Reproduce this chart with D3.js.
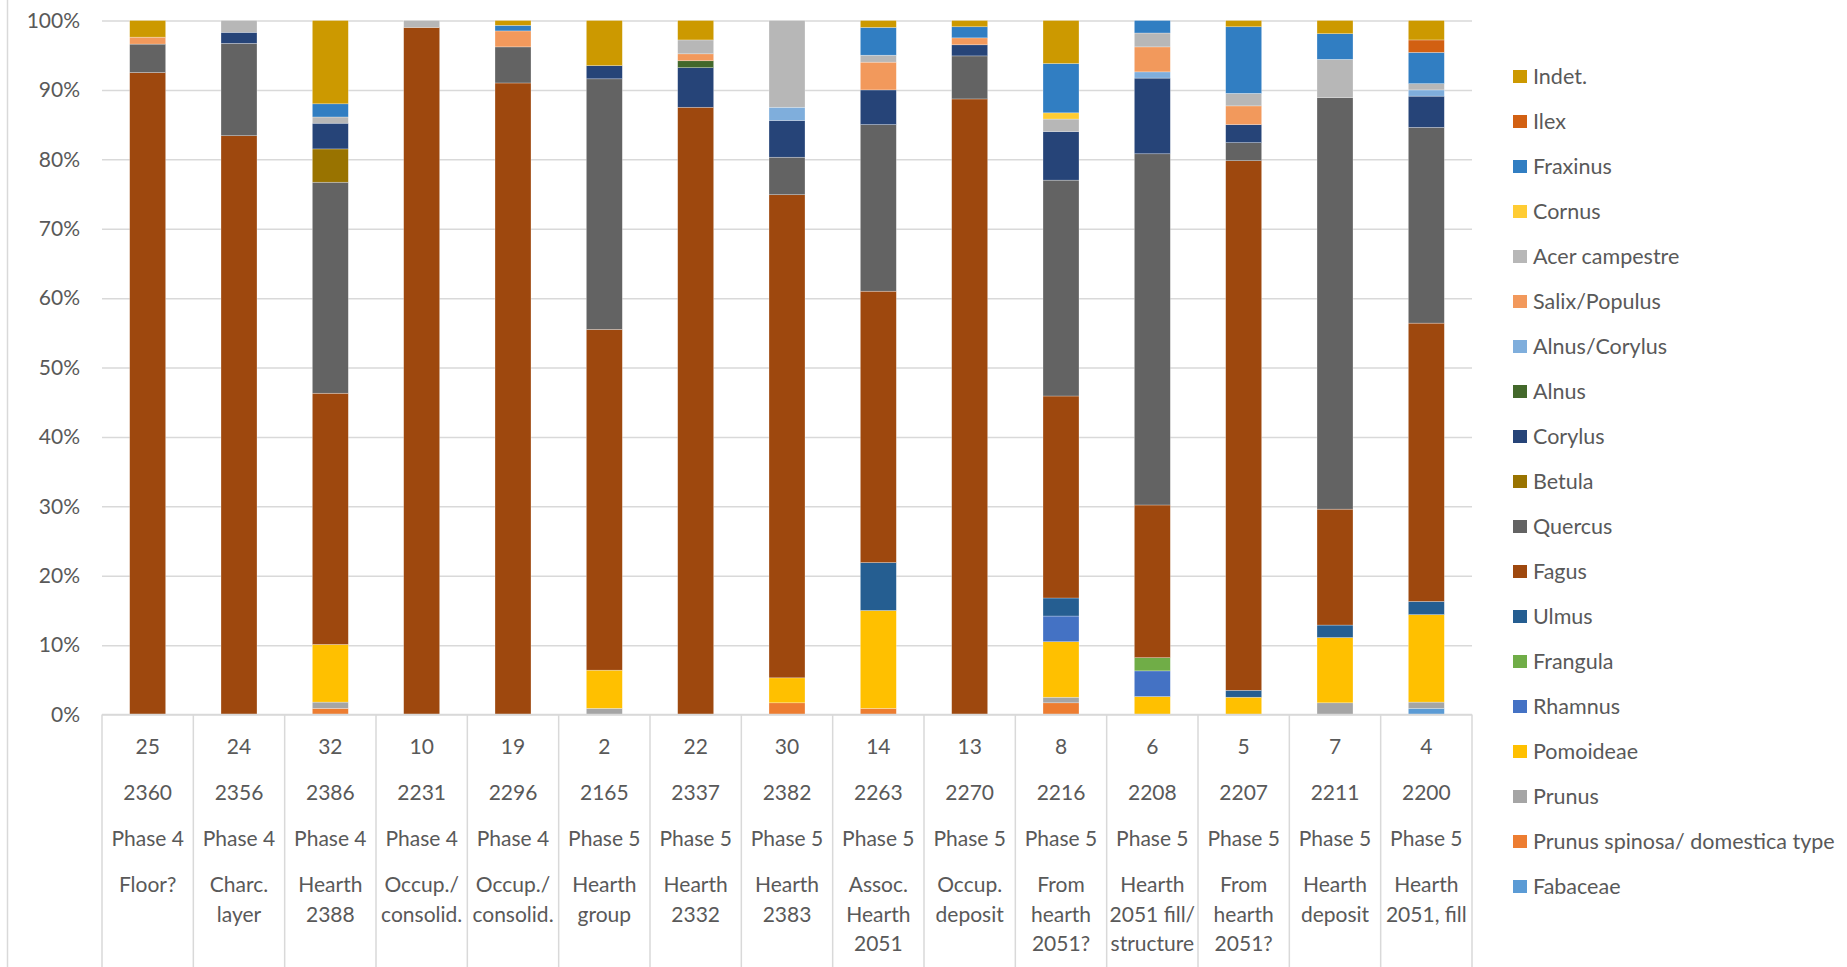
<!DOCTYPE html>
<html>
<head>
<meta charset="utf-8">
<script src="https://cdnjs.cloudflare.com/ajax/libs/d3/7.8.5/d3.min.js"></script>
<style>
  html, body { margin: 0; padding: 0; background: #fff; }
  svg text { font-family: Lato, "Open Sans", sans-serif; fill: #595959; }
</style>
</head>
<body>
<div class="container"></div>
<script>
// category label rows
var counts = ['25', '24', '32', '10', '19', '2', '22', '30', '14', '13', '8', '6', '5', '7', '4'];
var contexts = ['2360', '2356', '2386', '2231', '2296', '2165', '2337', '2382', '2263', '2270', '2216', '2208', '2207', '2211', '2200'];
var phases = ['Phase 4', 'Phase 4', 'Phase 4', 'Phase 4', 'Phase 4', 'Phase 5', 'Phase 5', 'Phase 5',
              'Phase 5', 'Phase 5', 'Phase 5', 'Phase 5', 'Phase 5', 'Phase 5', 'Phase 5'];
var descriptions = [['Floor?'], ['Charc.', 'layer'], ['Hearth', '2388'], ['Occup./', 'consolid.'],
                    ['Occup./', 'consolid.'], ['Hearth', 'group'], ['Hearth', '2332'], ['Hearth', '2383'],
                    ['Assoc.', 'Hearth', '2051'], ['Occup.', 'deposit'], ['From', 'hearth', '2051?'],
                    ['Hearth', '2051 fill/', 'structure'], ['From', 'hearth', '2051?'], ['Hearth', 'deposit'],
                    ['Hearth', '2051, fill']];

// taxa, bottom of the stack first
var taxa = ['Fabaceae', 'Prunus spinosa/ domestica type', 'Prunus', 'Pomoideae', 'Rhamnus', 'Frangula',
            'Ulmus', 'Fagus', 'Quercus', 'Betula', 'Corylus', 'Alnus', 'Alnus/Corylus', 'Salix/Populus',
            'Acer campestre', 'Cornus', 'Fraxinus', 'Ilex', 'Indet.'];
var colors = ['#5B9BD5', '#ED7D31', '#A5A5A5', '#FFC000', '#4472C4', '#70AD47',
              '#255E91', '#9E480E', '#636363', '#997300', '#264478', '#43682B', '#7FAEDC', '#F2995C',
              '#B7B7B7', '#FFCC33', '#317EC2', '#D26012', '#CC9900'];

// percentages per sample (same order as contexts)
var fabaceae      = [0, 0, 0, 0, 0, 0, 0, 0, 0, 0, 0, 0, 0, 0, 0.9];
var prunusSpinosa = [0, 0, 0.9, 0, 0, 0, 0, 1.7, 0.9, 0, 1.7, 0, 0, 0, 0];
var prunus        = [0, 0, 0.9, 0, 0, 0.9, 0, 0, 0, 0, 0.8, 0, 0, 1.7, 0.9];
var pomoideae     = [0, 0, 8.3, 0, 0, 5.5, 0, 3.6, 14.1, 0, 8.0, 2.6, 2.5, 9.4, 12.6];
var rhamnus       = [0, 0, 0, 0, 0, 0, 0, 0, 0, 0, 3.7, 3.7, 0, 0, 0];
var frangula      = [0, 0, 0, 0, 0, 0, 0, 0, 0, 0, 0, 1.9, 0, 0, 0];
var ulmus         = [0, 0, 0, 0, 0, 0, 0, 0, 6.9, 0, 2.6, 0, 1.0, 1.8, 1.9];
var fagus         = [92.5, 83.4, 36.2, 99.0, 91.0, 49.1, 87.5, 69.6, 39.1, 88.7, 29.1, 22.0, 76.3, 16.7, 40.1];
var quercus       = [4.1, 13.3, 30.4, 0, 5.2, 36.1, 0, 5.4, 24.0, 6.2, 31.1, 50.6, 2.6, 59.3, 28.2];
var betula        = [0, 0, 4.8, 0, 0, 0, 0, 0, 0, 0, 0, 0, 0, 0, 0];
var corylus       = [0, 1.6, 3.7, 0, 0, 1.9, 5.7, 5.3, 5.0, 1.6, 7.0, 10.9, 2.6, 0, 4.5];
var alnus         = [0, 0, 0, 0, 0, 0, 1.0, 0, 0, 0, 0, 0, 0, 0, 0];
var alnusCorylus  = [0, 0, 0, 0, 0, 0, 0, 1.9, 0, 0, 0, 0.9, 0, 0, 0.9];
var salixPopulus  = [1.0, 0, 0, 0, 2.3, 0, 1.0, 0, 4.0, 1.0, 0, 3.6, 2.7, 0, 0];
var acer          = [0, 1.7, 0.9, 1.0, 0, 0, 2.0, 12.5, 1.0, 0, 1.8, 2.0, 1.8, 5.5, 0.9];
var cornus        = [0, 0, 0, 0, 0, 0, 0, 0, 0, 0, 0.9, 0, 0, 0, 0];
var fraxinus      = [0, 0, 1.9, 0, 0.8, 0, 0, 0, 4.0, 1.6, 7.1, 1.8, 9.6, 3.7, 4.5];
var ilex          = [0, 0, 0, 0, 0, 0, 0, 0, 0, 0, 0, 0, 0, 0, 1.8];
var indet         = [2.4, 0, 12.0, 0, 0.7, 6.5, 2.8, 0, 1.0, 0.9, 6.2, 0, 0.9, 1.9, 2.8];

var series = [fabaceae, prunusSpinosa, prunus, pomoideae, rhamnus, frangula, ulmus, fagus, quercus,
              betula, corylus, alnus, alnusCorylus, salixPopulus, acer, cornus, fraxinus, ilex, indet];

var rows = contexts.map(function(c, i) {
    var r = { idx: i };
    taxa.forEach(function(t, k) { r[t] = series[k][i]; });
    return r;
});

var width = 1847, height = 967;
var plotLeft = 102, plotRight = 1472, plotTop = 20.5, plotBottom = 714.6;

var svg = d3.select('.container')
            .append('svg')
                .attr('width', width)
                .attr('height', height);

var x = d3.scaleBand()
          .domain(d3.range(contexts.length))
          .range([plotLeft, plotRight])
          .padding(0);

var xBar = d3.scaleBand()
             .domain(d3.range(contexts.length))
             .range([plotLeft, plotRight])
             .paddingInner(0.606)
             .paddingOuter(0.303);

var y = d3.scaleLinear()
          .domain([0, 1])
          .range([plotBottom, plotTop]);

var colour = d3.scaleOrdinal().domain(taxa).range(colors);

// outer border on the left
svg.append('line')
    .attr('x1', 7.5).attr('x2', 7.5)
    .attr('y1', 0).attr('y2', height)
    .style('stroke', '#d9d9d9')
    .style('stroke-width', 1.5);

// gridlines + y labels
var yAxis = svg.append('g')
    .attr('transform', 'translate(' + plotLeft + ',0)')
    .call(d3.axisLeft(y)
        .ticks(10)
        .tickSize(-(plotRight - plotLeft))
        .tickPadding(22)
        .tickFormat(d3.format('.0%')));
yAxis.select('.domain').remove();
yAxis.selectAll('line')
    .style('stroke', '#d9d9d9')
    .style('stroke-width', 1.5);
yAxis.selectAll('text')
    .style('font-size', '21px')
    .style('fill', '#595959');

// bars
var stack = d3.stack()
              .keys(taxa)
              .offset(d3.stackOffsetExpand);

var layers = svg.append('g')
    .selectAll('g')
    .data(stack(rows))
    .enter()
    .append('g')
        .style('fill', function(d) { return colour(d.key); });

layers.selectAll('rect')
    .data(function(d) { return d; })
    .enter()
    .append('rect')
        .attr('x', function(d) { return xBar(d.data.idx); })
        .attr('width', xBar.bandwidth())
        .attr('y', function(d) { return y(d[1]); })
        .attr('height', function(d) { return y(d[0]) - y(d[1]); })
        .style('stroke', '#fff')
        .style('stroke-width', 0.6)
        .style('stroke-opacity', 0.45);

// category table below the plot
var axisG = svg.append('g');

axisG.append('line')
    .attr('x1', plotLeft).attr('x2', plotRight)
    .attr('y1', plotBottom).attr('y2', plotBottom)
    .style('stroke', '#d9d9d9')
    .style('stroke-width', 1.5);

axisG.selectAll('.sep')
    .data(d3.range(contexts.length + 1))
    .enter()
    .append('line')
        .attr('class', 'sep')
        .attr('x1', function(d) { return d < contexts.length ? x(d) : plotRight; })
        .attr('x2', function(d) { return d < contexts.length ? x(d) : plotRight; })
        .attr('y1', plotBottom)
        .attr('y2', height)
        .style('stroke', '#d9d9d9')
        .style('stroke-width', 1.5);

var cells = axisG.selectAll('.cell')
    .data(contexts)
    .enter()
    .append('g')
        .attr('class', 'cell')
        .attr('transform', function(d, i) { return 'translate(' + (x(i) + x.bandwidth() / 2) + ',0)'; });

var labelRows = [counts, contexts, phases];
var rowY = [747, 793, 839];

labelRows.forEach(function(arr, r) {
    cells.append('text')
        .attr('y', rowY[r])
        .attr('dy', '0.35em')
        .attr('text-anchor', 'middle')
        .style('font-size', '21px')
        .text(function(d, i) { return arr[i]; });
});

cells.each(function(d, i) {
    var g = d3.select(this);
    descriptions[i].forEach(function(line, k) {
        g.append('text')
            .attr('y', 885 + k * 29.5)
            .attr('dy', '0.35em')
            .attr('text-anchor', 'middle')
            .style('font-size', '21px')
            .text(line);
    });
});

// legend, top of stack first
var legendItems = taxa.slice().reverse();

var legend = svg.append('g')
    .selectAll('g')
    .data(legendItems)
    .enter()
    .append('g')
        .attr('transform', function(d, i) { return 'translate(1513,' + (76.5 + i * 45) + ')'; });

legend.append('rect')
    .attr('x', 0)
    .attr('y', -6.5)
    .attr('width', 14)
    .attr('height', 13)
    .style('fill', function(d) { return colour(d); });

legend.append('text')
    .attr('x', 20)
    .attr('dy', '0.35em')
    .style('font-size', '21.5px')
    .text(function(d) { return d; });
</script>
</body>
</html>
